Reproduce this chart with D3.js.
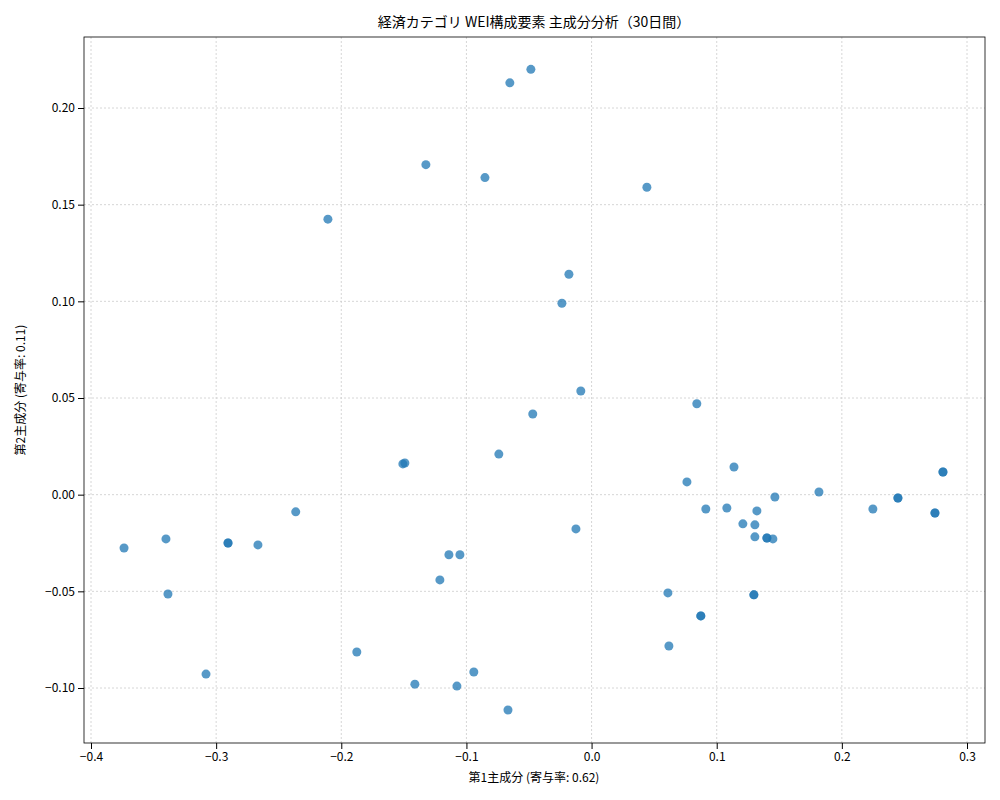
<!DOCTYPE html><html><head><meta charset="utf-8">
<script src="https://cdn.jsdelivr.net/npm/d3@7"></script>
<style>body{margin:0;background:#fff}text{font-family:"Noto Sans CJK JP","DejaVu Sans",sans-serif}</style></head><body>
<svg id="c" width="1000" height="800"></svg>
<script>
const pc1=[-0.0485,-0.0653,-0.1324,-0.0852,0.0442,-0.2107,-0.0181,-0.0237,-0.0086,-0.0470,0.0841,-0.0741,-0.1508,-0.1492,0.1138,0.0762,-0.2364,0.0913,0.1081,0.1465,0.1817,0.2248,0.2448,0.2448,0.2808,0.2808,0.2744,0.2744,0.1209,0.1321,0.1305,0.1305,0.1401,0.1401,0.1449,-0.0125,-0.3736,-0.3401,-0.2905,-0.2905,-0.2666,-0.1140,-0.1052,-0.1212,-0.3385,0.0610,0.1297,0.1297,0.0873,0.0873,0.0618,-0.1876,-0.3081,-0.1412,-0.1076,-0.0941,-0.0668];
const pc2=[0.220,0.213,0.1707,0.1640,0.1590,0.1425,0.1140,0.0990,0.0536,0.0417,0.0470,0.0210,0.0159,0.0164,0.0143,0.0066,-0.0089,-0.0074,-0.0069,-0.0012,0.0014,-0.0074,-0.0017,-0.0017,0.0117,0.0117,-0.0095,-0.0095,-0.0151,-0.0084,-0.0156,-0.0218,-0.0224,-0.0224,-0.0229,-0.0177,-0.0276,-0.0229,-0.0250,-0.0250,-0.0260,-0.0311,-0.0311,-0.0441,-0.0514,-0.0508,-0.0518,-0.0518,-0.0627,-0.0627,-0.0783,-0.0814,-0.0928,-0.0980,-0.0990,-0.0917,-0.1114];
const xTicks=[-0.4,-0.3,-0.2,-0.1,0,0.1,0.2,0.3];
const yTicks=[-0.10,-0.05,0,0.05,0.10,0.15,0.20];
const L=84,R=985,T=37,B=743;
const x=d3.scaleLinear().domain([-0.4,0.3]).range([91,967]);
const y=d3.scaleLinear().domain([-0.10,0.20]).range([688,108]);
const svg=d3.select("#c");
const g=svg.append("g");
g.selectAll(".gx").data(xTicks).enter().append("line").attr("x1",d=>x(d)).attr("x2",d=>x(d)).attr("y1",T).attr("y2",B).attr("stroke","#ccc").attr("stroke-dasharray","2,2").attr("stroke-width",0.8);
g.selectAll(".gy").data(yTicks).enter().append("line").attr("y1",d=>y(d)).attr("y2",d=>y(d)).attr("x1",L).attr("x2",R).attr("stroke","#ccc").attr("stroke-dasharray","2,2").attr("stroke-width",0.8);
svg.selectAll("circle").data(pc1.map((d,i)=>[d,pc2[i]])).enter().append("circle").attr("cx",d=>x(d[0])).attr("cy",d=>y(d[1])).attr("r",4.5).attr("fill","#1f77b4").attr("fill-opacity",0.75);
svg.append("rect").attr("x",L).attr("y",T).attr("width",R-L).attr("height",B-T).attr("fill","none").attr("stroke","#000").attr("stroke-width",0.8);
const xa=svg.append("g").attr("transform",`translate(0,${B})`).call(d3.axisBottom(x).tickValues(xTicks).tickFormat(d3.format(".1f")).tickSizeOuter(0));
const ya=svg.append("g").attr("transform",`translate(${L},0)`).call(d3.axisLeft(y).tickValues(yTicks).tickFormat(d3.format(".2f")).tickSizeOuter(0));
[xa,ya].forEach(a=>{a.select(".domain").remove();a.selectAll("text").attr("font-size",12).attr("fill","#000");a.selectAll("line").attr("stroke","#000");});
xa.selectAll("text").text(d=>d3.format(".1f")(d).replace("-","−"));
ya.selectAll("text").text(d=>d3.format(".2f")(d).replace("-","−"));
svg.append("text").attr("x",534).attr("y",27).attr("text-anchor","middle").attr("font-size",14).text("経済カテゴリ WEI構成要素 主成分分析（30日間）");
svg.append("text").attr("x",534).attr("y",782).attr("text-anchor","middle").attr("font-size",12).text("第1主成分 (寄与率: 0.62)");
svg.append("text").attr("transform","translate(25,390) rotate(-90)").attr("text-anchor","middle").attr("font-size",12).text("第2主成分 (寄与率: 0.11)");
</script></body></html>
